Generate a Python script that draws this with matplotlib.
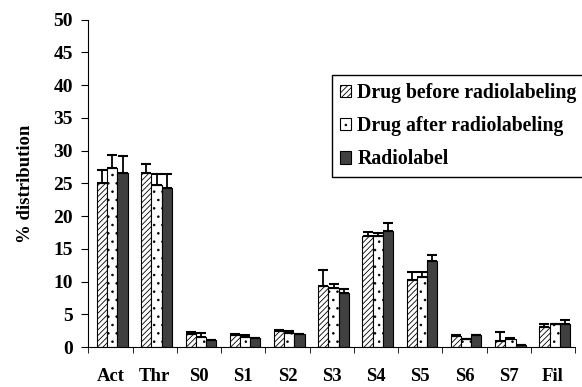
#!/usr/bin/env python
# -*- coding: utf-8 -*-
import matplotlib
matplotlib.use('Agg')
import matplotlib.pyplot as plt
import numpy as np

categories = ['Act', 'Thr', 'S0', 'S1', 'S2', 'S3', 'S4', 'S5', 'S6', 'S7', 'Fil']
before = [25.0, 26.6, 2.0, 1.9, 2.5, 9.3, 16.9, 10.3, 1.7, 0.9, 3.0]
before_err = [2.0, 1.4, 0.3, 0.1, 0.1, 2.5, 0.7, 1.1, 0.1, 1.4, 0.6]
after = [27.4, 24.7, 1.6, 1.6, 2.2, 9.1, 16.9, 10.7, 1.3, 1.2, 3.5]
after_err = [2.0, 1.8, 0.6, 0.3, 0.2, 0.6, 0.6, 0.7, 0.0, 0.2, 0.1]
radio = [26.6, 24.3, 1.1, 1.4, 2.0, 8.3, 17.7, 13.1, 1.8, 0.4, 3.5]
radio_err = [2.6, 2.2, 0.0, 0.0, 0.0, 0.6, 1.2, 0.9, 0.0, 0.0, 0.7]
labels = ['Drug before radiolabeling', 'Drug after radiolabeling', 'Radiolabel']

plt.rcParams['font.family'] = ['Liberation Serif', 'DejaVu Serif']
plt.rcParams['font.weight'] = 'bold'
plt.rcParams['hatch.linewidth'] = 0.6

fig = plt.figure(figsize=(5.82, 3.87), dpi=100)
ax = fig.add_axes([0.152, 0.103, 0.836, 0.846])

x = np.arange(len(categories))
w = 0.23
styles = [
    dict(facecolor='white', hatch='//////', edgecolor='black'),
    dict(facecolor='white', hatch='..', edgecolor='black'),
    dict(facecolor='#404040', edgecolor='black'),
]
series = [(before, before_err), (after, after_err), (radio, radio_err)]
for i, ((vals, errs), st, lab) in enumerate(zip(series, styles, labels)):
    pos = x + (i - 1) * w + 0.04
    ax.bar(pos, vals, width=w, linewidth=0.8, label=lab, **st)
    ax.errorbar(pos, vals, yerr=[np.zeros(len(vals)), errs], fmt='none',
                ecolor='black', elinewidth=1.3, capsize=3.8, capthick=1.5)

ax.set_xlim(-0.5, len(categories) - 0.5)
ax.set_ylim(0, 50)
ax.set_yticks(np.arange(0, 51, 5))
ax.set_xticks(x)
ax.set_xticklabels(categories, fontsize=13.5, fontweight='bold')
ax.set_xticks(np.arange(-0.5, len(categories)), minor=True)
ax.tick_params(axis='x', which='major', length=0, pad=15)
ax.tick_params(axis='x', which='minor', length=4, direction='out')
ax.tick_params(axis='y', labelsize=14, length=5, direction='out', pad=6)
for t in ax.get_yticklabels():
    t.set_fontweight('bold')
ax.spines['top'].set_visible(False)
ax.spines['right'].set_visible(False)
ax.set_ylabel('% distribution', fontsize=13.5, fontweight='bold', labelpad=14)

ax.legend(loc='upper left', bbox_to_anchor=(0.570, 0.806), bbox_transform=fig.transFigure,
          fancybox=False, edgecolor='black', framealpha=1,
          handlelength=0.6, handleheight=0.6, handletextpad=0.3,
          labelspacing=0.67, borderpad=0.4, borderaxespad=0,
          prop={'weight': 'bold', 'size': 14.2})

fig.savefig('out.png', dpi=100)
